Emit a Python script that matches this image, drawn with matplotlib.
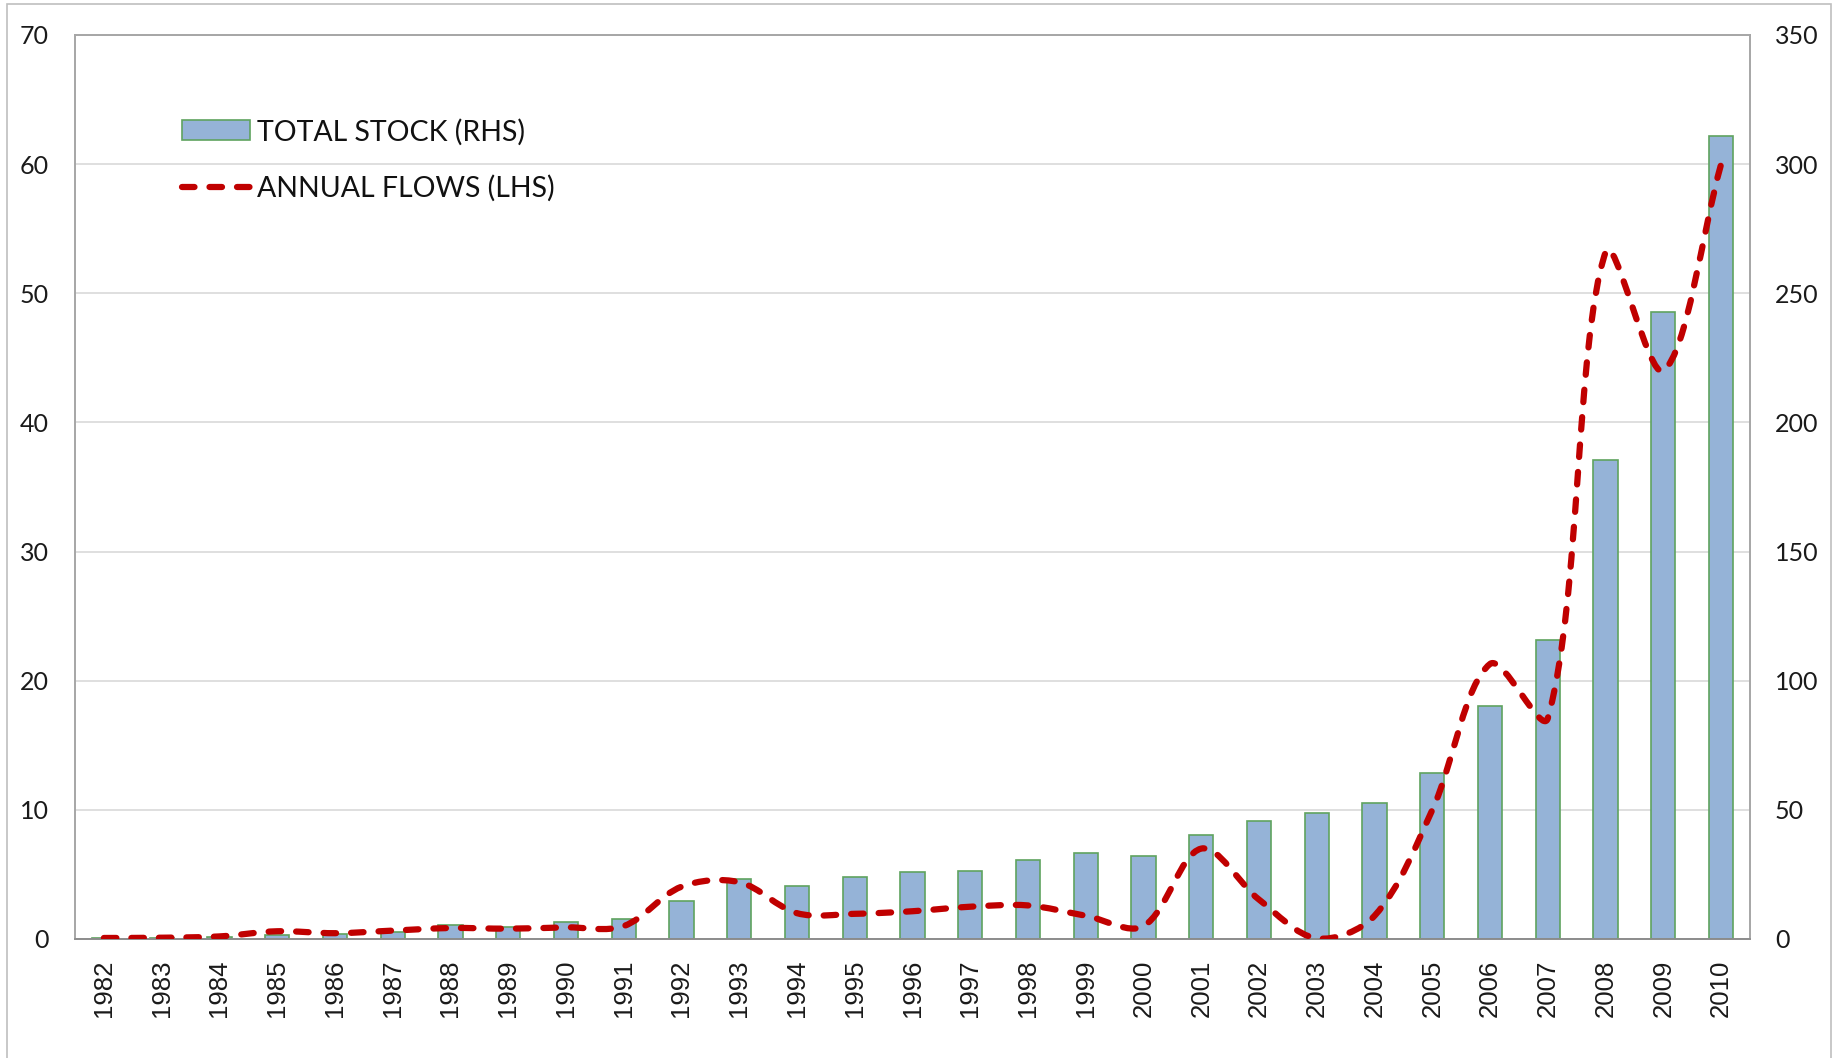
import numpy as np
import matplotlib
matplotlib.use('Agg')
import matplotlib.pyplot as plt
from matplotlib.path import Path
from matplotlib.patches import PathPatch, Rectangle
from matplotlib.lines import Line2D

years = ['1982', '1983', '1984', '1985', '1986', '1987', '1988', '1989', '1990', '1991',
         '1992', '1993', '1994', '1995', '1996', '1997', '1998', '1999', '2000', '2001',
         '2002', '2003', '2004', '2005', '2006', '2007', '2008', '2009', '2010']
# total stock, right hand scale
stock = [0.3, 0.4, 0.6, 1.5, 1.9, 2.9, 5.3, 4.7, 6.4, 7.8, 14.9, 23.2, 20.4, 23.9, 25.8,
         26.3, 30.7, 33.3, 32.3, 40.1, 45.5, 48.6, 52.8, 64.4, 90.3, 115.7, 185.4, 242.9, 311.0]
# annual flows, left hand scale
flows = [0.08, 0.1, 0.2, 0.6, 0.45, 0.65, 0.85, 0.8, 0.9, 1.0, 4.05, 4.4, 2.0, 1.95, 2.15,
         2.5, 2.6, 1.8, 1.0, 7.0, 3.05, 0.05, 1.8, 10.0, 21.3, 17.1, 53.2, 44.0, 60.0]
left_ticks = [0, 10, 20, 30, 40, 50, 60, 70]
right_ticks = [0, 50, 100, 150, 200, 250, 300, 350]

bar_face = '#95B3D7'
bar_edge = '#5FA35F'
red = '#C00000'
frame = '#A6A6A6'

fig = plt.figure(figsize=(18.37, 10.58), dpi=100)
ax = fig.add_axes([75/1837, 119/1058, 1675/1837, 904/1058])
ax2 = ax.twinx()

x = np.arange(len(years))
bars = ax2.bar(x, stock, width=0.42, color=bar_face, edgecolor=bar_edge, linewidth=1.2,
               label='TOTAL STOCK (RHS)', zorder=2)
ax2.set_ylim(0, 350)
ax2.set_yticks(right_ticks)
ax2.set_axisbelow(True)
ax2.grid(axis='y', color='#D9D9D9', linewidth=1.2)

ax.set_ylim(0, 70)
ax.set_yticks(left_ticks)
ax.set_xlim(-0.5, len(years) - 0.5)
ax.set_xticks(x)
ax.set_xticklabels(years, rotation=90, family='Liberation Sans', fontsize=18.5,
                   color='#1a1a1a')

# smoothed line like excel: bezier through the points, worked out in pixel space
pts = ax.transData.transform(np.column_stack([x, flows]).astype(float))
n = len(pts)
hin = np.zeros_like(pts)
hout = np.zeros_like(pts)
for i in range(n):
    p0 = pts[max(i - 1, 0)]
    p2 = pts[min(i + 1, n - 1)]
    d0 = np.hypot(*(pts[i] - p0))
    d2 = np.hypot(*(p2 - pts[i]))
    if d0 + d2 == 0:
        continue
    t = p2 - p0
    hin[i] = pts[i] - t * d0 / (d0 + d2) / 3
    hout[i] = pts[i] + t * d2 / (d0 + d2) / 3
verts = [pts[0]]
codes = [Path.MOVETO]
for i in range(n - 1):
    verts += [hout[i], hin[i + 1], pts[i + 1]]
    codes += [Path.CURVE4] * 3
verts = ax.transData.inverted().transform(np.array(verts))
pp = PathPatch(Path(verts, codes), fill=False, edgecolor=red, linewidth=4.5,
               linestyle=(0, (2.0, 2.4)), capstyle='round', joinstyle='round', zorder=3)
ax.add_patch(pp)

ax.set_zorder(ax2.get_zorder() + 1)
ax.patch.set_visible(False)

for a in (ax, ax2):
    for s in a.spines.values():
        s.set_color(frame)
        s.set_linewidth(1.2)
    a.spines['bottom'].set_color('#8C8C8C')
ax.tick_params(axis='both', length=0)
ax.tick_params(axis='y', pad=19)
ax.tick_params(axis='x', pad=15)
ax2.tick_params(axis='y', length=0, pad=18)
for lab in ax.get_yticklabels() + ax2.get_yticklabels():
    lab.set_family('Lato')
    lab.set_fontsize(18)
    lab.set_color('#1a1a1a')

line_proxy = Line2D([], [], color=red, linewidth=4.5, linestyle=(0, (2.0, 2.4)),
                    dash_capstyle='round')
leg = ax.legend([bars, line_proxy], ['TOTAL STOCK (RHS)', 'ANNUAL FLOWS (LHS)'],
                loc='upper left', bbox_to_anchor=(0.0639, 0.9076), frameon=False,
                borderaxespad=0, borderpad=0, handlelength=2.4, handleheight=0.7,
                handletextpad=0.25, labelspacing=1.04,
                prop={'family': 'Lato', 'size': 20.5})
for t in leg.get_texts():
    t.set_color('#111111')

fig.add_artist(Rectangle((7/1837, -0.01), 1824/1837, 1.01 - 4/1058, fill=False,
                         edgecolor='#BFBFBF', linewidth=1.2, transform=fig.transFigure))

fig.savefig('out.png', dpi=100)
